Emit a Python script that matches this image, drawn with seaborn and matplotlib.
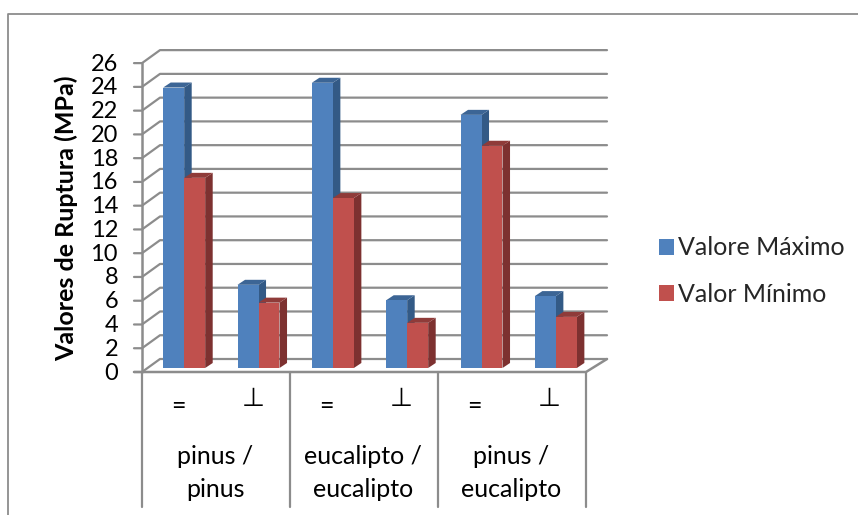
import pandas as pd
import seaborn as sns
import matplotlib.pyplot as plt
from matplotlib.patches import Polygon

# values
grupos = ['pinus /\npinus', 'eucalipto /\neucalipto', 'pinus /\neucalipto']
direcoes = ['=', '⊥', '=', '⊥', '=', '⊥']
valor_maximo = [23.6, 7.0, 24.0, 5.7, 21.3, 6.05]
valor_minimo = [16.0, 5.5, 14.3, 3.8, 18.7, 4.3]
y_ticks = list(range(0, 28, 2))

cores = ['#4F81BD', '#C0504D']
cores_lado = ['#335A86', '#7D3130']
cores_topo = ['#3C6595', '#8F3B39']
cinza = '#8C8C8C'

sns.set_style('white')
plt.rcParams['font.family'] = ['Lato', 'DejaVu Sans']

df = pd.DataFrame({
    'pos': list(range(6)) * 2,
    'valor': valor_maximo + valor_minimo,
    'serie': ['Valore Máximo'] * 6 + ['Valor Mínimo'] * 6,
})

W, H = 858, 515
fig = plt.figure(figsize=(W / 100, H / 100), dpi=100)

# background layer in pixels for the walls, axis and text
bg = fig.add_axes([0, 0, 1, 1])
bg.set_xlim(0, W)
bg.set_ylim(H, 0)
bg.axis('off')

y0, esc = 372, 11.88
x0, x1 = 142, 586
dx, dy = 18, -13
larg = (x1 - x0) / 6

bg.plot([7.5, 7.5, W], [H, 14, 14], color=cinza, lw=1.3)
for v in y_ticks:
    y = y0 - esc * v
    bg.plot([x0 - 8, x0, x0 + dx, x1 + dx + 3], [y, y, y + dy, y + dy], color=cinza, lw=1.6)
    bg.text(118, y + 1, str(v), ha='right', va='center', fontsize=17, color='black')
bg.plot([x0, x0], [y0 - esc * 26, y0], color=cinza, lw=1.8)
bg.plot([x0 - 8, x1, x1 + dx + 3], [y0, y0, y0 + dy], color=cinza, lw=1.8)
for i in range(0, 7, 2):
    bg.plot([x0 + i * larg] * 2, [y0, 507], color=cinza, lw=1.6)
for i, d in enumerate(direcoes):
    if d == '=':
        bg.text(x0 + (i + 0.5) * larg - 1, 406, d, ha='center', va='center', fontsize=18, color='black')
    else:
        bg.text(x0 + (i + 0.5) * larg, 399, d, ha='center', va='center', fontsize=19, color='black',
                family='DejaVu Sans')
for i, g in enumerate(grupos):
    bg.text(x0 + (2 * i + 1) * larg - 1, 473, g, ha='center', va='center', fontsize=18, color='black',
            linespacing=1.48)
bg.text(66, 218, 'Valores de Ruptura (MPa)', rotation=90, ha='center', va='center',
        fontsize=18, fontweight='bold', color='black')

# bars, through seaborn's categorical axis
ax = fig.add_axes([147 / W, 1 - 368 / H, 446 / W, 309 / H])
sns.barplot(data=df, x='pos', y='valor', hue='serie', palette=cores, width=0.565, gap=0,
            saturation=1, ax=ax, legend=False)
ax.set_xlim(-0.5, 5.5)
ax.set_ylim(0, 26)
ax.patch.set_alpha(0)
ax.axis('off')

prof_x, prof_y = 7.5 / larg, 5 / esc
for n, cont in enumerate(ax.containers):
    for bar in cont:
        bar.set_zorder(3)
        bar.set_linewidth(0)
        xa = bar.get_x()
        xb = xa + bar.get_width()
        h = bar.get_height()
        ax.add_patch(Polygon([(xb, 0), (xb + prof_x, prof_y), (xb + prof_x, h + prof_y), (xb, h)],
                             fc=cores_lado[n], ec='none', zorder=1 + n / 2, clip_on=False))
        ax.add_patch(Polygon([(xa, h), (xa + prof_x, h + prof_y), (xb + prof_x, h + prof_y), (xb, h)],
                             fc=cores_topo[n], ec='none', zorder=1 + n / 2, clip_on=False))

# legend
handles = [plt.Rectangle((0, 0), 1, 1, fc=c, ec='none') for c in cores]
bg.legend(handles, df['serie'].unique(), loc='upper left', bbox_to_anchor=(651 / W, 1 - 229 / H),
          bbox_transform=fig.transFigure, frameon=False, fontsize=18, handlelength=0.6,
          handleheight=0.6, handletextpad=0.2, labelspacing=0.95, borderpad=0.3, borderaxespad=0)

fig.savefig('out.png', dpi=100)
